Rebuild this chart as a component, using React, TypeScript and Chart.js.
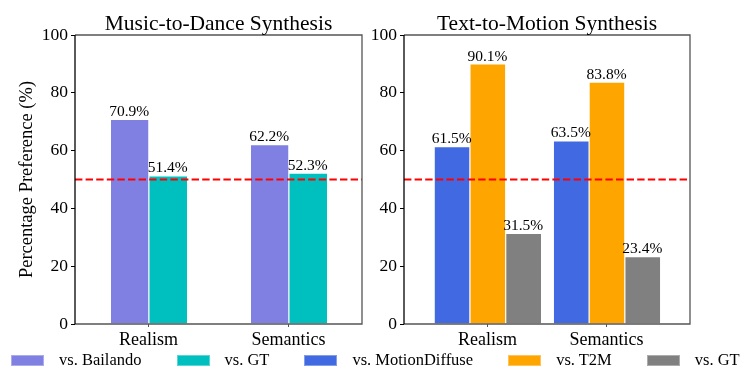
import React, { useEffect, useRef } from 'react';
import { Chart, registerables } from 'chart.js';

Chart.register(...registerables);

const FONT = '"Liberation Serif", "Times New Roman", Times, serif';

const categories = ['Realism', 'Semantics'];
const referenceLine = 50;
const yAxisTitle = 'Percentage Preference (%)';

const danceTitle = 'Music-to-Dance Synthesis';
const danceLabels = ['vs. Bailando', 'vs. GT'];
const danceColors = ['#8080E2', '#00BFBF'];
const danceBailando = [70.9, 62.2];
const danceGT = [51.4, 52.3];

const motionTitle = 'Text-to-Motion Synthesis';
const motionLabels = ['vs. MotionDiffuse', 'vs. T2M', 'vs. GT'];
const motionColors = ['#4169E1', '#FFA500', '#808080'];
const motionDiffuse = [61.5, 63.5];
const motionT2M = [90.1, 83.8];
const motionGT = [31.5, 23.4];

type PanelProps = {
  title: string;
  labels: string[];
  colors: string[];
  series: number[][];
  xMin: number;
  xMax: number;
  catPct: number;
  yAxisWidth: number;
  width: number;
  left: number;
  padRight: number;
  showYTitle: boolean;
};

function BarPanel(p: PanelProps) {
  const ref = useRef<HTMLCanvasElement>(null);
  useEffect(() => {
    const canvas = ref.current;
    if (!canvas) return;
    const overlay = {
      id: 'overlay',
      afterDatasetsDraw(chart: any) {
        const { ctx, chartArea: a, scales } = chart;
        const ys = scales.y;
        ctx.save();
        // reference line
        const yl = ys.getPixelForValue(referenceLine);
        ctx.strokeStyle = '#FF0000';
        ctx.lineWidth = 2;
        ctx.setLineDash([7.4, 3.2]);
        ctx.beginPath();
        ctx.moveTo(a.left, yl);
        ctx.lineTo(a.right, yl);
        ctx.stroke();
        ctx.setLineDash([]);
        // spines
        ctx.lineWidth = 1.3;
        ctx.strokeStyle = '#555555';
        ctx.beginPath();
        ctx.moveTo(a.left, a.top);
        ctx.lineTo(a.right, a.top);
        ctx.lineTo(a.right, a.bottom);
        ctx.lineTo(a.left, a.bottom);
        ctx.stroke();
        ctx.strokeStyle = '#000000';
        ctx.beginPath();
        ctx.moveTo(a.left, a.top);
        ctx.lineTo(a.left, a.bottom);
        ctx.stroke();
        // value labels
        ctx.font = `15.5px ${FONT}`;
        ctx.fillStyle = '#000';
        ctx.textAlign = 'center';
        ctx.textBaseline = 'alphabetic';
        chart.data.datasets.forEach((_ds: any, i: number) => {
          const meta = chart.getDatasetMeta(i);
          meta.data.forEach((bar: any, j: number) => {
            const v = p.series[i][j];
            ctx.fillText(`${v.toFixed(1)}%`, bar.x, bar.y - 3);
          });
        });
        // title
        ctx.font = `21.5px ${FONT}`;
        ctx.fillText(p.title, (a.left + a.right) / 2, 30);
        ctx.restore();
      },
    };
    const chart = new Chart(canvas, {
      type: 'bar',
      data: {
        datasets: p.series.map((vals, i) => ({
          label: p.labels[i],
          data: vals.map((v, j) => ({ x: j, y: v })),
          backgroundColor: p.colors[i],
          borderColor: 'rgba(255,255,255,0.35)',
          borderWidth: { left: 1, top: 1, right: 0, bottom: 0 },
          borderSkipped: false,
          categoryPercentage: p.catPct,
          barPercentage: 1,
        })),
      },
      options: {
        responsive: false,
        animation: false,
        layout: { padding: { top: 35, right: p.padRight, left: 0, bottom: 0 } },
        plugins: { legend: { display: false }, tooltip: { enabled: false }, title: { display: false } },
        scales: {
          x: {
            type: 'linear',
            min: p.xMin,
            max: p.xMax,
            offset: false,
            bounds: 'data',
            afterBuildTicks: (s: any) => {
              s.ticks = categories.map((_c, i) => ({ value: i }));
            },
            afterFit: (s: any) => {
              s.height = 59;
            },
            ticks: {
              callback: (v: any) => categories[v as number] ?? '',
              font: { family: FONT, size: 18 },
              color: '#000',
              padding: 2,
              autoSkip: false,
              maxRotation: 0,
            },
            grid: { offset: false, drawOnChartArea: false, drawTicks: true, tickLength: 3, tickColor: '#555' },
            border: { display: false },
          },
          y: {
            min: 0,
            max: 100,
            afterFit: (s: any) => {
              s.width = p.yAxisWidth;
            },
            ticks: {
              stepSize: 20,
              font: { family: FONT, size: 17.5 },
              color: '#000',
              padding: 3,
            },
            grid: { drawOnChartArea: false, drawTicks: true, tickLength: 4, tickColor: '#000' },
            border: { display: false },
            title: {
              display: p.showYTitle,
              text: yAxisTitle,
              font: { family: FONT, size: 18.5 },
              color: '#000',
              padding: { top: 16, bottom: 0 },
            },
          },
        },
      },
      plugins: [overlay],
    } as any);
    return () => chart.destroy();
  }, []);
  return (
    <canvas
      ref={ref}
      width={p.width}
      height={383}
      style={{ position: 'absolute', left: p.left, top: 0, width: p.width, height: 383 }}
    />
  );
}

export default function App() {
  const legendItems = [
    ...danceLabels.map((l, i) => ({ label: l, color: danceColors[i] })),
    ...motionLabels.map((l, i) => ({ label: l, color: motionColors[i] })),
  ];
  return (
    <div style={{ position: 'fixed', left: 0, top: 0, width: 748, height: 383, background: '#fff', fontFamily: FONT }}>
      <BarPanel
        title={danceTitle}
        labels={danceLabels}
        colors={danceColors}
        series={[danceBailando, danceGT]}
        xMin={-0.525}
        xMax={1.525}
        catPct={0.55}
        yAxisWidth={75}
        width={374}
        left={0}
        padRight={12}
        showYTitle={true}
      />
      <BarPanel
        title={motionTitle}
        labels={motionLabels}
        colors={motionColors}
        series={[motionDiffuse, motionT2M, motionGT]}
        xMin={-0.7}
        xMax={1.7}
        catPct={0.9}
        yAxisWidth={64}
        width={408}
        left={340}
        padRight={58}
        showYTitle={false}
      />
      <div
        style={{
          position: 'absolute',
          left: 11,
          top: 349,
          height: 22,
          display: 'flex',
          alignItems: 'center',
          gap: 35,
          whiteSpace: 'nowrap',
        }}
      >
        {legendItems.map((it, i) => (
          <div key={i} style={{ display: 'flex', alignItems: 'center' }}>
            <div
              style={{
                width: 33,
                height: 11,
                background: it.color,
                boxSizing: 'border-box',
                border: '1px solid rgba(255,255,255,0.35)',
                marginRight: 15,
              }}
            />
            <span style={{ fontSize: 16.5, color: '#000', lineHeight: 'normal' }}>{it.label}</span>
          </div>
        ))}
      </div>
    </div>
  );
}
